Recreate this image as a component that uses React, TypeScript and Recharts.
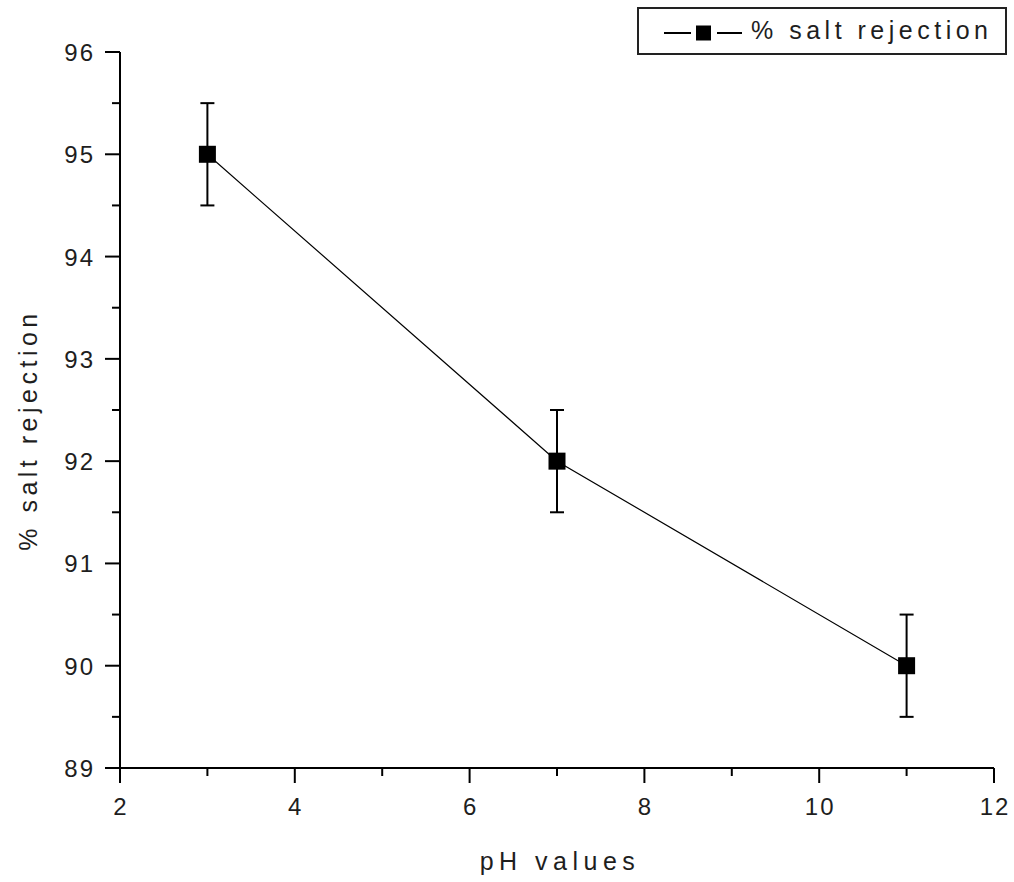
import React from 'react';
import { LineChart, Line, XAxis, YAxis, ErrorBar, Legend } from 'recharts';

// values
const phValues = [3, 7, 11];
const saltRejection = [95, 92, 90];
const rejectionError = [0.5, 0.5, 0.5];

const xTicks = [2, 3, 4, 5, 6, 7, 8, 9, 10, 11, 12];
const yTicks = [89, 89.5, 90, 90.5, 91, 91.5, 92, 92.5, 93, 93.5, 94, 94.5, 95, 95.5, 96];

const data = phValues.map((ph, i) => ({ ph, rejection: saltRejection[i], err: rejectionError[i] }));

const FONT = 'Arial, "Liberation Sans", sans-serif';
const INK = '#1e1e1e';

const XTick = (props: any) => {
  const { x, y, payload } = props;
  const major = payload.value % 2 === 0;
  return (
    <g>
      <line x1={x} x2={x} y1={y} y2={y + (major ? 15 : 8)} stroke="#000" strokeWidth={2} />
      {major && (
        <text x={x + 1} y={y + 47} textAnchor="middle" fontFamily={FONT} fontSize={24} letterSpacing={2} fill={INK}>
          {payload.value}
        </text>
      )}
    </g>
  );
};

const YTick = (props: any) => {
  const { x, y, payload } = props;
  const major = Number.isInteger(payload.value);
  return (
    <g>
      <line x1={x - (major ? 15 : 8)} x2={x} y1={y} y2={y} stroke="#000" strokeWidth={2} />
      {major && (
        <text x={x - 25} y={y + 9} textAnchor="end" fontFamily={FONT} fontSize={24} letterSpacing={2} fill={INK}>
          {payload.value}
        </text>
      )}
    </g>
  );
};

const SquareDot = (props: any) => {
  const { cx, cy, index } = props;
  return <rect key={`dot-${index}`} x={cx - 8.5} y={cy - 8.5} width={17} height={17} fill="#000" />;
};

const LegendBox = () => (
  <div
    style={{
      width: 366,
      height: 44,
      border: '2px solid #222',
      background: '#fff',
      position: 'relative',
      fontFamily: FONT,
    }}
  >
    <svg width={110} height={44} style={{ position: 'absolute', left: 0, top: 0 }}>
      <line x1={25} x2={52} y1={24} y2={24} stroke="#000" strokeWidth={2} />
      <line x1={78} x2={103} y1={24} y2={24} stroke="#000" strokeWidth={2} />
      <rect x={57} y={16.5} width={15} height={15} fill="#000" />
    </svg>
    <span
      style={{
        position: 'absolute',
        left: 112,
        top: 7,
        fontSize: 25,
        letterSpacing: 4.5,
        color: INK,
        whiteSpace: 'nowrap',
        lineHeight: '28px',
      }}
    >
      % salt rejection
    </span>
  </div>
);

export default function App() {
  return (
    <div style={{ position: 'absolute', left: 0, top: 0, background: '#fff' }}>
      <LineChart width={1014} height={882} data={data} margin={{ top: 52, right: 20, bottom: 0, left: 0 }}>
        <XAxis
          dataKey="ph"
          type="number"
          domain={[2, 12]}
          ticks={xTicks}
          interval={0}
          height={114}
          tickSize={0}
          tickMargin={0}
          tickLine={false}
          axisLine={{ stroke: '#000', strokeWidth: 2 }}
          tick={XTick}
          label={(p: any) => {
            const vb = p.viewBox;
            return (
              <text
                x={vb.x + vb.width / 2 + 3}
                y={870}
                textAnchor="middle"
                fontFamily={FONT}
                fontSize={25}
                letterSpacing={5.5}
                fill={INK}
              >
                pH values
              </text>
            );
          }}
        />
        <YAxis
          type="number"
          domain={[89, 96]}
          ticks={yTicks}
          interval={0}
          width={120}
          tickSize={0}
          tickMargin={0}
          tickLine={false}
          axisLine={{ stroke: '#000', strokeWidth: 2 }}
          tick={YTick}
          label={(p: any) => {
            const vb = p.viewBox;
            const cy = vb.y + vb.height / 2 + 20;
            return (
              <text
                x={37}
                y={cy}
                transform={`rotate(-90, 37, ${cy})`}
                textAnchor="middle"
                fontFamily={FONT}
                fontSize={25}
                letterSpacing={4.5}
                fill={INK}
              >
                % salt rejection
              </text>
            );
          }}
        />
        <Legend
          layout="vertical"
          align="center"
          verticalAlign="middle"
          content={() => <LegendBox />}
          wrapperStyle={{ top: 7, left: 637, width: 370, height: 48 }}
        />
        <Line
          type="linear"
          dataKey="rejection"
          name="% salt rejection"
          stroke="#000"
          strokeWidth={1.2}
          dot={SquareDot}
          activeDot={false}
          isAnimationActive={false}
        >
          <ErrorBar dataKey="err" direction="y" width={7} stroke="#000" strokeWidth={2} isAnimationActive={false} />
        </Line>
      </LineChart>
    </div>
  );
}
